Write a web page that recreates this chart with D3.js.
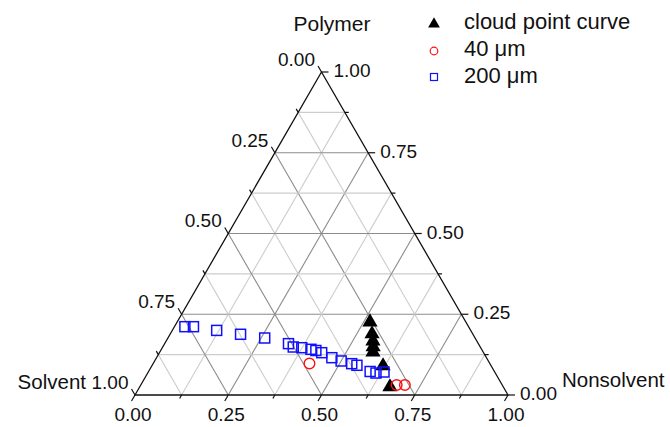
<!DOCTYPE html>
<meta charset="utf-8">
<html>
<head>
<title>Ternary phase diagram</title>
<style>
  body { margin: 0; background: #fff; }
  svg text { font-family: "Liberation Sans", Arial, sans-serif; fill: #111; }
</style>
</head>
<body>
<div id="viz"></div>
<script src="https://cdnjs.cloudflare.com/ajax/libs/d3/7.8.5/d3.min.js"></script>
<script>
// ternary points as [nonsolvent, polymer]; solvent = 1 - both
var cloudPoint = [[0.517, 0.226], [0.541, 0.189], [0.5545, 0.167], [0.564, 0.149],
                  [0.5715, 0.133], [0.620, 0.090], [0.671, 0.025]];
var film40 = [[0.419, 0.0975], [0.686, 0.031], [0.708, 0.031]];
var film200 = [[0.028, 0.2115], [0.051, 0.2115], [0.119, 0.200], [0.189, 0.188],
               [0.2595, 0.1765], [0.332, 0.159], [0.350, 0.1486], [0.374, 0.1464],
               [0.401, 0.1415], [0.416, 0.1378], [0.435, 0.131], [0.470, 0.1155],
               [0.500, 0.1053], [0.5325, 0.097], [0.549, 0.092], [0.594, 0.0728],
               [0.612, 0.068], [0.632, 0.0712]];
var gridSteps = [0.125, 0.25, 0.375, 0.5, 0.625, 0.75, 0.875];
var tickSteps = [0, 0.125, 0.25, 0.375, 0.5, 0.625, 0.75, 0.875, 1];
var tickLabels = ["0.00", "0.25", "0.50", "0.75", "1.00"];
var legendNames = ["cloud point curve", "40 \u03bcm", "200 \u03bcm"];

var width = 670, height = 427;
var svg = d3.select("#viz").append("svg")
    .attr("width", width)
    .attr("height", height);

// bottom-left corner at x 135, bottom-right at 508, apex at y 72
var xs = d3.scaleLinear().domain([0, 1]).range([135, 508]);
var ys = d3.scaleLinear().domain([0, 1]).range([395, 72]);

function pt(n, p) {
    return [xs(n + p / 2), ys(p)];
}

function isMajor(v) {
    return Math.abs(v * 4 - Math.round(v * 4)) < 1e-6;
}

var line = d3.line();

// grid
var grid = svg.append("g");
gridSteps.forEach(function (v) {
    var col = isMajor(v) ? "#8c8c8c" : "#cdcdcd";
    // constant polymer
    grid.append("path").attr("d", line([pt(0, v), pt(1 - v, v)]))
        .attr("stroke", col).attr("stroke-width", 1.1).attr("fill", "none");
    // constant nonsolvent
    grid.append("path").attr("d", line([pt(v, 0), pt(v, 1 - v)]))
        .attr("stroke", col).attr("stroke-width", 1.1).attr("fill", "none");
    // constant solvent
    grid.append("path").attr("d", line([pt(1 - v, 0), pt(0, 1 - v)]))
        .attr("stroke", col).attr("stroke-width", 1.1).attr("fill", "none");
});

// frame
svg.append("path")
    .attr("d", line([pt(0, 0), pt(1, 0), pt(0, 1)]) + "Z")
    .attr("fill", "none")
    .attr("stroke", "#111")
    .attr("stroke-width", 1.3);

// ticks and labels
var axes = svg.append("g");
var c30 = 0.5, s60 = Math.sqrt(3) / 2;
tickSteps.forEach(function (v) {
    var len = isMajor(v) ? 7 : 4;
    var lab = isMajor(v) ? tickLabels[Math.round(v * 4)] : null;

    // bottom axis: nonsolvent, ticks down-left
    var b = pt(v, 0);
    axes.append("line")
        .attr("x1", b[0]).attr("y1", b[1])
        .attr("x2", b[0] - c30 * len).attr("y2", b[1] + s60 * len)
        .attr("stroke", "#111").attr("stroke-width", 1.2);
    if (lab) {
        axes.append("text").attr("x", b[0] - 2).attr("y", b[1] + 21)
            .attr("text-anchor", "middle").attr("dominant-baseline", "middle")
            .attr("font-size", 19).text(lab);
    }

    // right axis: polymer, ticks horizontal to the right
    var r = pt(1 - v, v);
    axes.append("line")
        .attr("x1", r[0]).attr("y1", r[1])
        .attr("x2", r[0] + len).attr("y2", r[1])
        .attr("stroke", "#111").attr("stroke-width", 1.2);
    if (lab) {
        axes.append("text").attr("x", r[0] + len + 5).attr("y", r[1])
            .attr("text-anchor", "start").attr("dominant-baseline", "middle")
            .attr("font-size", 19).text(lab);
    }

    // left axis: solvent, ticks up-left
    var l = pt(0, 1 - v);
    axes.append("line")
        .attr("x1", l[0]).attr("y1", l[1])
        .attr("x2", l[0] - c30 * len).attr("y2", l[1] - s60 * len)
        .attr("stroke", "#111").attr("stroke-width", 1.2);
    if (lab) {
        axes.append("text").attr("x", l[0] - c30 * len - 3).attr("y", l[1] - s60 * len - 5)
            .attr("text-anchor", "end").attr("dominant-baseline", "middle")
            .attr("font-size", 19).text(lab);
    }
});

// axis titles
svg.append("text").attr("x", 332).attr("y", 25)
    .attr("text-anchor", "middle").attr("dominant-baseline", "middle")
    .attr("font-size", 21).text("Polymer");
svg.append("text").attr("x", 562).attr("y", 382)
    .attr("text-anchor", "start").attr("dominant-baseline", "middle")
    .attr("font-size", 20.5).text("Nonsolvent");
svg.append("text").attr("x", 86).attr("y", 384)
    .attr("text-anchor", "end").attr("dominant-baseline", "middle")
    .attr("font-size", 20.5).text("Solvent");

// markers
var triSym = d3.symbol().type(d3.symbolTriangle).size(100);
svg.append("g").selectAll("path")
    .data(cloudPoint).enter()
    .append("path")
    .attr("d", triSym)
    .attr("transform", function (d) { var p = pt(d[0], d[1]); return "translate(" + p[0] + "," + p[1] + ")"; })
    .attr("fill", "#000");

svg.append("g").selectAll("rect")
    .data(film200).enter()
    .append("rect")
    .attr("x", function (d) { return pt(d[0], d[1])[0] - 5; })
    .attr("y", function (d) { return pt(d[0], d[1])[1] - 5; })
    .attr("width", 10).attr("height", 10)
    .attr("fill", "none")
    .attr("stroke", "#1010ff")
    .attr("stroke-width", 1.5);

svg.append("g").selectAll("circle")
    .data(film40).enter()
    .append("circle")
    .attr("cx", function (d) { return pt(d[0], d[1])[0]; })
    .attr("cy", function (d) { return pt(d[0], d[1])[1]; })
    .attr("r", 5.3)
    .attr("fill", "none")
    .attr("stroke", "#ff1010")
    .attr("stroke-width", 1.4);

// legend
var lg = svg.append("g");
lg.append("path").attr("d", d3.symbol().type(d3.symbolTriangle).size(60))
    .attr("transform", "translate(434,24)").attr("fill", "#000");
lg.append("circle").attr("cx", 434).attr("cy", 51).attr("r", 3.8)
    .attr("fill", "none").attr("stroke", "#ff1010").attr("stroke-width", 1.2);
lg.append("rect").attr("x", 430.5).attr("y", 73.5).attr("width", 7).attr("height", 7)
    .attr("fill", "none").attr("stroke", "#1010ff").attr("stroke-width", 1.2);
legendNames.forEach(function (name, i) {
    lg.append("text").attr("x", 464).attr("y", 23 + i * 27)
        .attr("dominant-baseline", "middle").attr("font-size", 22).text(name);
});
</script>
</body>
</html>
